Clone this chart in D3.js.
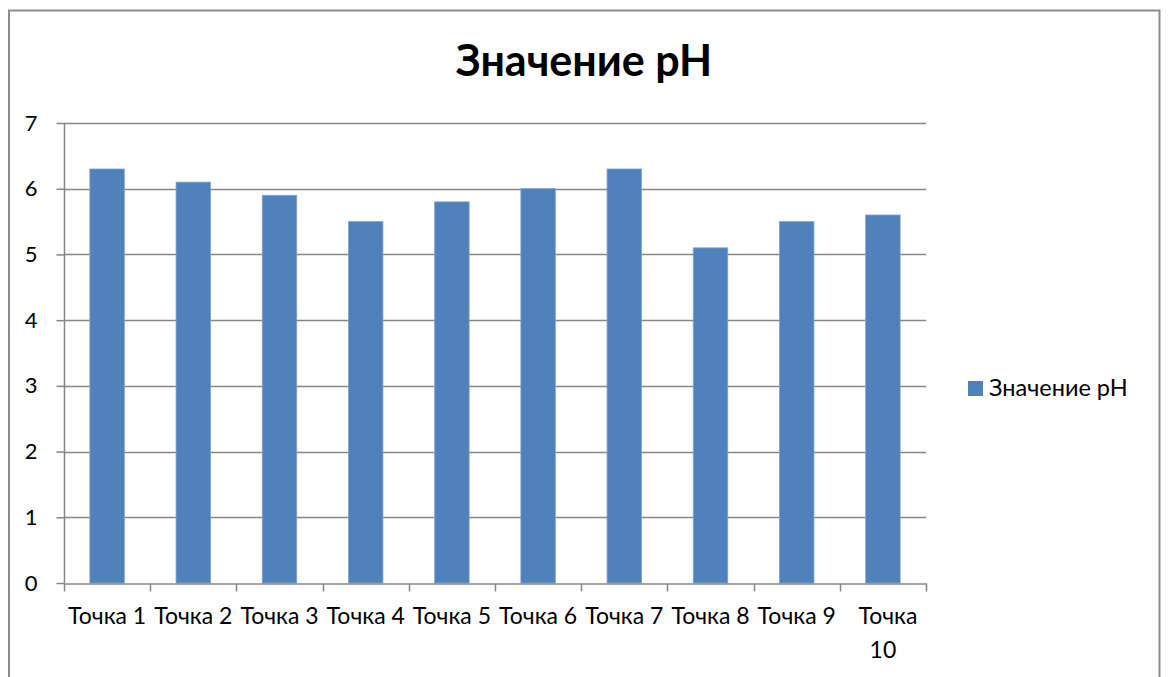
<!DOCTYPE html>
<html>
<head>
<meta charset="utf-8">
<script src="https://cdn.jsdelivr.net/npm/d3@7"></script>
<style>
  body { margin: 0; background: #fff; }
  text { font-family: Lato, "Open Sans", sans-serif; fill: #000; }
</style>
</head>
<body>
<div id="wrapper"></div>
<script>
// Data
const categories = ["Точка 1", "Точка 2", "Точка 3", "Точка 4", "Точка 5",
  "Точка 6", "Точка 7", "Точка 8", "Точка 9", "Точка 10"]
const phValues = [6.3, 6.1, 5.9, 5.5, 5.8, 6.0, 6.3, 5.1, 5.5, 5.6]
const yTicks = [0, 1, 2, 3, 4, 5, 6, 7]
const seriesName = "Значение pH"
const chartTitle = "Значение pH"

function drawBars() {
  const dimensions = {
    width: 1169,
    height: 677,
    plot: { left: 64, right: 926, top: 123, bottom: 583 },
  }

  const svg = d3.select("#wrapper")
    .append("svg")
    .attr("width", dimensions.width)
    .attr("height", dimensions.height)

  // chart frame
  svg.append("rect")
    .attr("x", 9)
    .attr("y", 10.5)
    .attr("width", 1150.5)
    .attr("height", 700)
    .attr("fill", "#fff")
    .attr("stroke", "#8c8c8c")
    .attr("stroke-width", 2)

  // Scales
  const xScale = d3.scaleBand()
    .domain(categories)
    .range([dimensions.plot.left, dimensions.plot.right])
    .paddingInner(0.6)
    .paddingOuter(0.3)

  const xBand = d3.scaleBand()
    .domain(categories)
    .range([dimensions.plot.left, dimensions.plot.right])

  const yScale = d3.scaleLinear()
    .domain([0, 7])
    .range([dimensions.plot.bottom, dimensions.plot.top])

  // gridlines
  svg.append("g")
    .selectAll("line")
    .data(yTicks.filter(d => d > 0))
    .join("line")
      .attr("x1", dimensions.plot.left)
      .attr("x2", dimensions.plot.right)
      .attr("y1", d => Math.round(yScale(d)) + 0.5)
      .attr("y2", d => Math.round(yScale(d)) + 0.5)
      .attr("stroke", "#868686")
      .attr("stroke-width", 1.3)

  // bars
  svg.append("g")
    .selectAll("rect")
    .data(phValues)
    .join("rect")
      .attr("x", (d, i) => xScale(categories[i]))
      .attr("y", d => yScale(d))
      .attr("width", xScale.bandwidth())
      .attr("height", d => yScale(0) - yScale(d))
      .attr("fill", "#4f81bd")
      .attr("stroke", "#7ea3d0")
      .attr("stroke-width", 0.8)

  // y axis
  const yAxisGenerator = d3.axisLeft(yScale)
    .tickValues(yTicks)
    .tickSize(8)
    .tickPadding(19)
    .tickFormat(d3.format("d"))

  const yAxis = svg.append("g")
    .attr("transform", `translate(${dimensions.plot.left + 0.5},0)`)
    .call(yAxisGenerator)
  yAxis.selectAll("path, line").attr("stroke", "#868686").attr("stroke-width", 1.5)
  yAxis.select(".domain").attr("d", `M0,${dimensions.plot.top}V${dimensions.plot.bottom}`)
  yAxis.selectAll("text").style("font-size", "22px").attr("fill", "#000")

  // x axis
  const xAxisGenerator = d3.axisBottom(xBand)
    .tickValues([])
    .tickSizeOuter(0)

  const xAxis = svg.append("g")
    .attr("transform", `translate(0,${dimensions.plot.bottom + 0.5})`)
    .call(xAxisGenerator)
  xAxis.select(".domain").attr("stroke", "#868686").attr("stroke-width", 1.5)

  // x tick marks at category boundaries
  const boundaries = categories.map(c => xBand(c)).concat([xBand.range()[1]])
  xAxis.selectAll(".bound")
    .data(boundaries)
    .join("line")
      .attr("class", "bound")
      .attr("x1", d => Math.round(d) + 0.5)
      .attr("x2", d => Math.round(d) + 0.5)
      .attr("y1", 0)
      .attr("y2", 8)
      .attr("stroke", "#868686")
      .attr("stroke-width", 1.5)

  // x labels (wrap when wider than the band)
  const labels = xAxis.selectAll(".xlabel")
    .data(categories)
    .join("text")
      .attr("class", "xlabel")
      .attr("text-anchor", "middle")
      .attr("x", d => xBand(d) + xBand.bandwidth() / 2)
      .attr("y", 40.5)
      .style("font-size", "23px")
      .text(d => d)

  labels.each(function(d) {
    const node = d3.select(this)
    if (this.getComputedTextLength() > xBand.bandwidth() + 2) {
      const words = d.split(" ")
      node.text(null)
      words.forEach((w, i) => {
        node.append("tspan")
          .attr("x", xBand(d) + xBand.bandwidth() / 2 + (i === 0 ? 5 : 0))
          .attr("dy", i === 0 ? 0 : 34)
          .text(w)
      })
    }
  })

  // title
  svg.append("text")
    .attr("x", 584)
    .attr("y", 76)
    .attr("text-anchor", "middle")
    .style("font-size", "43px")
    .style("font-weight", "bold")
    .text(chartTitle)

  // legend
  const legend = svg.append("g")
    .attr("transform", "translate(968,381)")
  legend.append("rect")
    .attr("width", 15)
    .attr("height", 15)
    .attr("fill", "#4f81bd")
  legend.append("text")
    .attr("x", 21)
    .attr("y", 15)
    .style("font-size", "23.5px")
    .text(seriesName)
}

drawBars()
</script>
</body>
</html>
